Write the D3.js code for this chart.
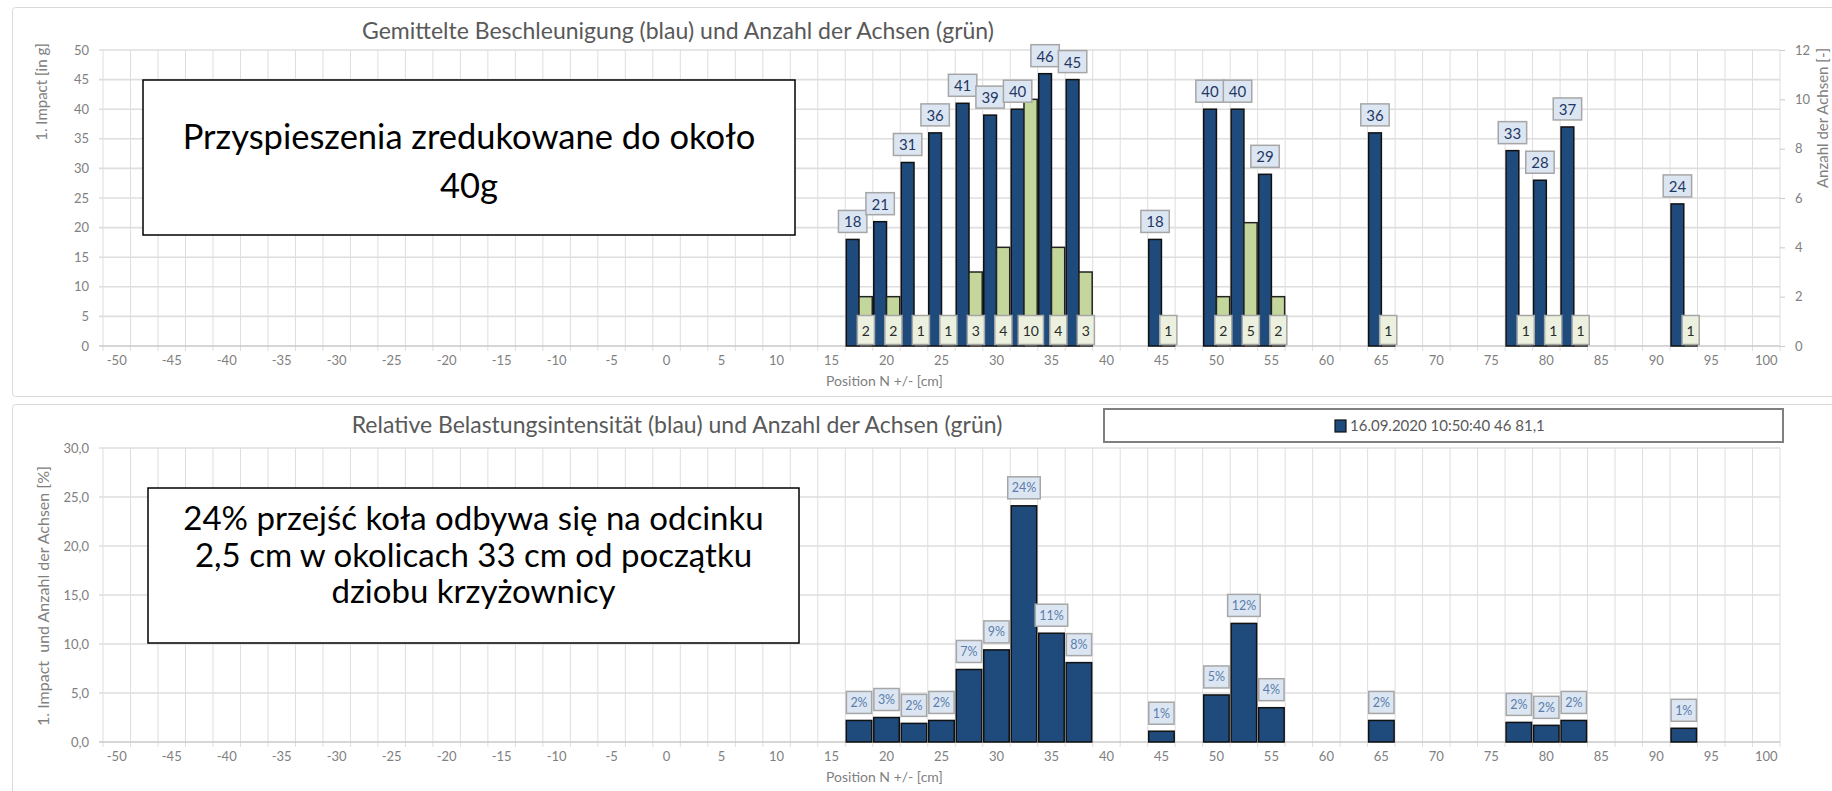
<!DOCTYPE html>
<html>
<head>
<meta charset="utf-8">
<script src="https://cdn.jsdelivr.net/npm/d3@7"></script>
<style>
html, body { margin: 0; padding: 0; background: #fff; overflow: hidden; }
svg { display: block; font-family: Lato, "Open Sans", sans-serif; }
</style>
</head>
<body>
<svg id="chart" width="1832" height="791"></svg>
<script>

// Data ///////////////////////////////////////////////////////////////////////

const categories = [
    -50, -47.5, -45, -42.5, -40, -37.5, -35, -32.5, -30, -27.5,
    -25, -22.5, -20, -17.5, -15, -12.5, -10, -7.5, -5, -2.5,
    0, 2.5, 5, 7.5, 10, 12.5, 15, 17.5, 20, 22.5,
    25, 27.5, 30, 32.5, 35, 37.5, 40, 42.5, 45, 47.5,
    50, 52.5, 55, 57.5, 60, 62.5, 65, 67.5, 70, 72.5,
    75, 77.5, 80, 82.5, 85, 87.5, 90, 92.5, 95, 97.5, 100
];
const xTickLabels = [-50, -45, -40, -35, -30, -25, -20, -15, -10, -5, 0, 5, 10, 15, 20,
    25, 30, 35, 40, 45, 50, 55, 60, 65, 70, 75, 80, 85, 90, 95, 100];

const positions = [17.5, 20, 22.5, 25, 27.5, 30, 32.5, 35, 37.5, 45, 50, 52.5, 55, 65, 77.5, 80, 82.5, 92.5];
const impact    = [18, 21, 31, 36, 41, 39, 40, 46, 45, 18, 40, 40, 29, 36, 33, 28, 37, 24];
const axles     = [2, 2, 1, 1, 3, 4, 10, 4, 3, 1, 2, 5, 2, 1, 1, 1, 1, 1];
const relative  = [2.2, 2.5, 1.9, 2.2, 7.4, 9.4, 24.1, 11.1, 8.1, 1.1, 4.8, 12.1, 3.5, 2.2, 2.0, 1.7, 2.2, 1.4];

const impactTicks = [0, 5, 10, 15, 20, 25, 30, 35, 40, 45, 50];
const axleTicks = [0, 2, 4, 6, 8, 10, 12];
const relTicks = [0, 5, 10, 15, 20, 25, 30];

const legendLabel = "16.09.2020 10:50:40 46 81,1";
const note1 = ["Przyspieszenia zredukowane do około", "40g"];
const note2 = ["24% przejść koła odbywa się na odcinku", "2,5 cm w okolicach 33 cm od początku", "dziobu krzyżownicy"];

const params = {
    left: 103,
    right: 1780,
    top1: 50, bottom1: 346,
    top2: 448, bottom2: 742
};

const colors = {
    blue: "#1f4a7c",
    green: "#c3d69b",
    grid: "#dedede",
    tick: "#808080",
    title: "#595959"
};

const svg = d3.select("#chart");
const de = d3.formatLocale({ decimal: ",", thousands: ".", grouping: [3], currency: ["", " €"] });

const x = d3.scaleBand().domain(categories).range([params.left, params.right]).padding(0);
const bw = x.bandwidth();
const yImpact = d3.scaleLinear().domain([0, 50]).range([params.bottom1, params.top1]);
const yAxles = d3.scaleLinear().domain([0, 12]).range([params.bottom1, params.top1]);
const yRel = d3.scaleLinear().domain([0, 30]).range([params.bottom2, params.top2]);

const rows = positions.map((p, i) => ({ p, impact: impact[i], axles: axles[i], rel: relative[i] }));


// Frames /////////////////////////////////////////////////////////////////////

svg.append("rect").attr("x", 12.5).attr("y", 7.5).attr("width", 1830).attr("height", 389)
    .attr("rx", 3).attr("fill", "#fff").attr("stroke", "#d9d9d9");
svg.append("rect").attr("x", 12.5).attr("y", 404.5).attr("width", 1830).attr("height", 400)
    .attr("rx", 3).attr("fill", "#fff").attr("stroke", "#d9d9d9");


// Functions //////////////////////////////////////////////////////////////////

function addGrid(g, y, ticks) {
    const [y0, y1] = y.range();
    const bounds = categories.map(c => x(c)).concat([params.right]);
    g.append("g").selectAll("line").data(bounds).join("line")
        .attr("x1", d => d).attr("x2", d => d)
        .attr("y1", y1).attr("y2", y0 + 5)
        .attr("stroke", colors.grid).attr("stroke-width", 1);
    g.append("g").selectAll("line").data(ticks).join("line")
        .attr("x1", params.left - 4).attr("x2", params.right)
        .attr("y1", d => y(d)).attr("y2", d => y(d))
        .attr("stroke", d => d === 0 ? "#c8c8c8" : colors.grid).attr("stroke-width", 1.6);
}

function addXAxis(g, y0) {
    const axis = g.append("g")
        .attr("transform", `translate(0,${y0 + 6})`)
        .call(d3.axisBottom(x).tickValues(xTickLabels).tickSize(0).tickPadding(4));
    axis.select(".domain").remove();
    axis.selectAll("text")
        .attr("font-size", 13).attr("fill", colors.tick).attr("font-family", "Lato");
    g.append("text")
        .attr("x", 826).attr("y", y0 + 40)
        .attr("font-size", 14).attr("fill", colors.tick)
        .text("Position N +/- [cm]");
}

function addLabel(container, cx, cy, txt, s) {
    const g = container.append("g");
    const rect = g.append("rect");
    const t = g.append("text")
        .attr("x", cx).attr("y", cy)
        .attr("text-anchor", "middle").attr("dominant-baseline", "central")
        .attr("font-size", s.size).attr("fill", s.color)
        .text(txt);
    const w = t.node().getComputedTextLength() + s.padX * 2;
    rect.attr("x", cx - w / 2).attr("y", cy - s.h / 2)
        .attr("width", w).attr("height", s.h)
        .attr("fill", s.fill).attr("stroke", "#a6a6a6").attr("stroke-width", 1.5);
}

function addNote(lines, box, baseline0, step, size) {
    const g = svg.append("g");
    g.append("rect")
        .attr("x", box[0]).attr("y", box[1]).attr("width", box[2]).attr("height", box[3])
        .attr("fill", "#fff").attr("stroke", "#000").attr("stroke-width", 1.5);
    g.selectAll("text").data(lines).join("text")
        .attr("x", box[0] + box[2] / 2)
        .attr("y", (d, i) => baseline0 + i * step)
        .attr("text-anchor", "middle")
        .attr("font-size", size).attr("fill", "#000")
        .text(d => d);
}


// Top chart //////////////////////////////////////////////////////////////////

const chartTop = svg.append("g");

chartTop.append("text")
    .attr("x", 678).attr("y", 39).attr("text-anchor", "middle")
    .attr("font-size", 23).attr("fill", colors.title)
    .text("Gemittelte Beschleunigung (blau) und Anzahl der Achsen (grün)");

addGrid(chartTop, yImpact, impactTicks);

const yLeft1 = chartTop.append("g")
    .attr("transform", `translate(${params.left - 6},0)`)
    .call(d3.axisLeft(yImpact).tickValues(impactTicks).tickSize(0).tickPadding(8));
yLeft1.select(".domain").remove();
yLeft1.selectAll("text").attr("font-size", 13).attr("fill", colors.tick).attr("font-family", "Lato");

const yRight1 = chartTop.append("g")
    .attr("transform", `translate(${params.right},0)`)
    .call(d3.axisRight(yAxles).tickValues(axleTicks).tickSize(5).tickPadding(10));
yRight1.select(".domain").remove();
yRight1.selectAll("line").attr("stroke", "#c8c8c8");
yRight1.selectAll("text").attr("font-size", 13).attr("fill", colors.tick).attr("font-family", "Lato");

chartTop.append("text")
    .attr("transform", "translate(47,92) rotate(-90)")
    .attr("text-anchor", "middle").attr("font-size", 15).attr("fill", colors.tick)
    .text("1. Impact [in g]");
chartTop.append("text")
    .attr("transform", "translate(1828,118) rotate(-90)")
    .attr("text-anchor", "middle").attr("font-size", 15).attr("fill", colors.tick)
    .text("Anzahl der Achsen [-]");

addXAxis(chartTop, params.bottom1);

chartTop.append("g").selectAll("rect").data(rows).join("rect")
    .attr("x", d => x(d.p) + 1)
    .attr("y", d => yImpact(d.impact))
    .attr("width", bw / 2 - 1)
    .attr("height", d => params.bottom1 - yImpact(d.impact))
    .attr("fill", colors.blue).attr("stroke", "#111").attr("stroke-width", 1.5);

chartTop.append("g").selectAll("rect").data(rows).join("rect")
    .attr("x", d => x(d.p) + bw / 2)
    .attr("y", d => yAxles(d.axles))
    .attr("width", bw / 2 - 0.5)
    .attr("height", d => params.bottom1 - yAxles(d.axles))
    .attr("fill", colors.green).attr("stroke", "#222").attr("stroke-width", 1.5);

const labels1 = chartTop.append("g");
rows.forEach(d => {
    addLabel(labels1, x(d.p) + bw / 4 + 0.5, yImpact(d.impact) - 18, d.impact,
        { size: 15, color: "#1f3864", fill: "#dce6f2", padX: 5.5, h: 22 });
});
rows.forEach(d => {
    addLabel(labels1, x(d.p) + bw * 0.75, params.bottom1 - 16, d.axles,
        { size: 14, color: "#2a2a2a", fill: "#ebf1de", padX: 4.5, h: 29 });
});


// Bottom chart ///////////////////////////////////////////////////////////////

const chartBottom = svg.append("g");

chartBottom.append("text")
    .attr("x", 677).attr("y", 433).attr("text-anchor", "middle")
    .attr("font-size", 23).attr("fill", colors.title)
    .text("Relative Belastungsintensität (blau) und Anzahl der Achsen (grün)");

addGrid(chartBottom, yRel, relTicks);

const yLeft2 = chartBottom.append("g")
    .attr("transform", `translate(${params.left - 6},0)`)
    .call(d3.axisLeft(yRel).tickValues(relTicks).tickSize(0).tickPadding(8)
        .tickFormat(de.format(".1f")));
yLeft2.select(".domain").remove();
yLeft2.selectAll("text").attr("font-size", 13).attr("fill", colors.tick).attr("font-family", "Lato");

chartBottom.append("text")
    .attr("transform", "translate(49,596) rotate(-90)")
    .attr("text-anchor", "middle").attr("font-size", 16).attr("fill", colors.tick)
    .style("white-space", "pre")
    .text("1. Impact  und Anzahl der Achsen [%]");

addXAxis(chartBottom, params.bottom2);

chartBottom.append("g").selectAll("rect").data(rows).join("rect")
    .attr("x", d => x(d.p) + 1)
    .attr("y", d => yRel(d.rel))
    .attr("width", bw - 2)
    .attr("height", d => params.bottom2 - yRel(d.rel))
    .attr("fill", colors.blue).attr("stroke", "#111").attr("stroke-width", 1.5);

const labels2 = chartBottom.append("g");
rows.forEach(d => {
    addLabel(labels2, x(d.p) + bw / 2, yRel(d.rel) - 18, d3.format(".0f")(d.rel) + "%",
        { size: 12.5, color: "#5a7dab", fill: "#dce6f2", padX: 4, h: 22 });
});

// Legend
const legend = chartBottom.append("g");
legend.append("rect")
    .attr("x", 1104).attr("y", 409).attr("width", 679).attr("height", 33)
    .attr("fill", "#fff").attr("stroke", "#7f7f7f").attr("stroke-width", 2);
legend.append("rect")
    .attr("x", 1335).attr("y", 420).attr("width", 11).attr("height", 12)
    .attr("fill", colors.blue).attr("stroke", "#111").attr("stroke-width", 1.2);
legend.append("text")
    .attr("x", 1350).attr("y", 431)
    .attr("font-size", 15).attr("fill", colors.title)
    .text(legendLabel);


// Notes //////////////////////////////////////////////////////////////////////

addNote(note1, [143, 80, 652, 155], 149, 49, 34.5);
addNote(note2, [148, 488, 651, 155], 530, 36.5, 33);

</script>
</body>
</html>
